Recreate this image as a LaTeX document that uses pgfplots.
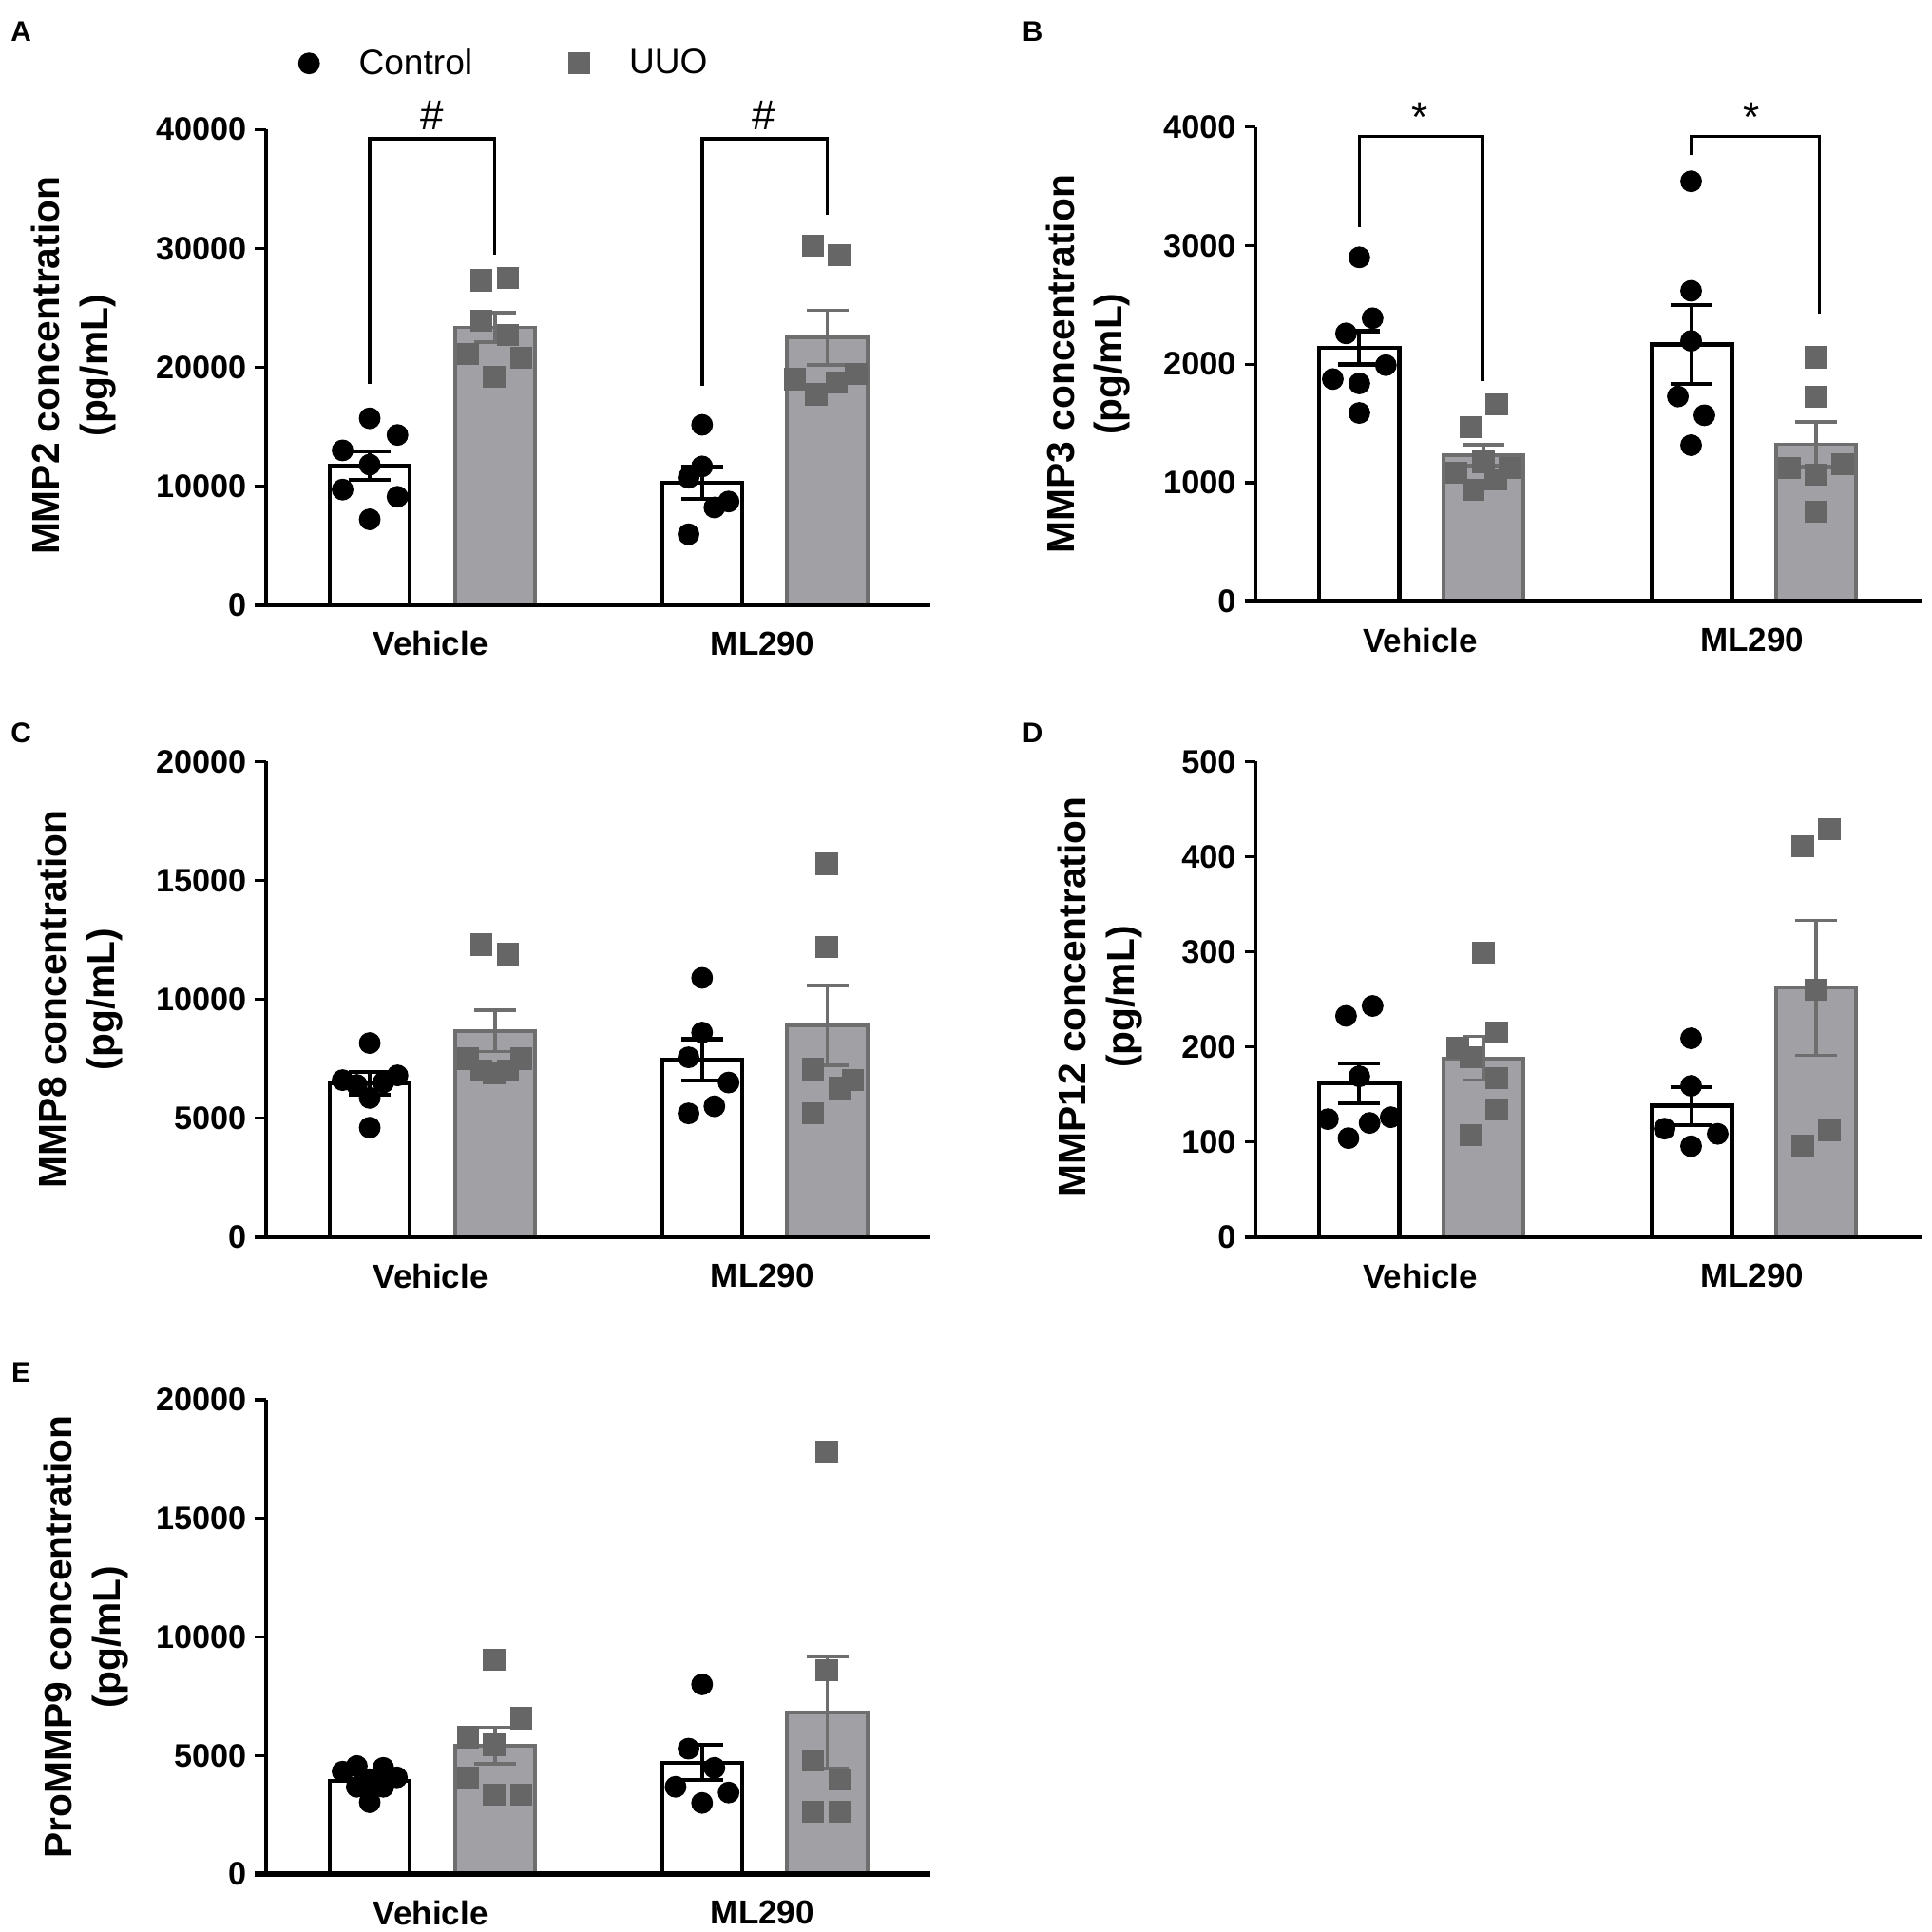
\documentclass[border=0pt]{standalone}
\usepackage{fontspec}
\setmainfont{Liberation Sans}
\usepackage{pgfplots}
\pgfplotsset{compat=1.18}

\definecolor{uuofill}{HTML}{A0A0A5}
\definecolor{uuoline}{HTML}{6E6E6E}
\definecolor{uuomark}{HTML}{666666}

\pgfplotsset{
  panel/.style={
    scale only axis,
    clip=false,
    axis on top,
    axis x line*=bottom,
    axis y line*=left,
    xmin=0,
    ymin=0,
    tick align=outside,
    major tick length=4.5pt,
    y tick style={line width=1.25pt,black},
    x tick style={draw=none},
    y axis line style={line width=1.25pt,black},
    scaled y ticks=false,
    /pgf/number format/assume math mode=true,
    /pgf/number format/1000 sep={},
    y tick label style={font=\fontsize{13.2}{13.2}\selectfont\bfseries,xshift=0pt},
    x tick label style={font=\fontsize{13.5}{13.5}\selectfont\bfseries,yshift=-2.75pt},
    xticklabels={Vehicle,ML290},
    y label style={font=\fontsize{15.7}{19.5}\selectfont\bfseries,align=center,anchor=center},
  },
  narrow/.style={panel,width=269.5pt,xmax=1077,xtick={267,805}},
  wide/.style={panel,width=270.5pt,xmax=1105,xtick={273,823}},
  ctrlbar/.style={ybar,bar width=32.5pt,fill=white,draw=black,line width=1.7pt,
    error bars/.cd,y dir=both,y explicit,
    error bar style={line width=1.6pt,black},
    error mark options={rotate=90,mark size=8.5pt,line width=1.6pt,black}},
  uuobar/.style={ybar,bar width=32.5pt,fill=uuofill,draw=uuoline,line width=1.5pt,
    error bars/.cd,y dir=both,y explicit,
    error bar style={line width=1.4pt,uuoline},
    error mark options={rotate=90,mark size=8.5pt,line width=1.4pt,uuoline}},
  ctrlpts/.style={only marks,mark=*,mark size=4.2pt,mark options={fill=black,draw=black}},
  uuopts/.style={only marks,mark=square*,mark size=4.3pt,mark options={fill=uuomark,draw=uuomark}},
  bracket/.style={black,line width=1.3pt,no marks},
}

\begin{document}
\begin{tikzpicture}
\useasboundingbox (0,0) rectangle (784pt,-784pt);

\foreach \lab/\px/\py in {A/8.5/13,B/419/13,C/8.5/297.5,D/419/297.5,E/8.5/557}
  \node[font=\fontsize{11.5}{11.5}\selectfont\bfseries] at (\px pt,-\py pt) {\lab};

% A
\begin{axis}[narrow,at={(108pt,-245.5pt)},anchor=south west,height=193pt,
  x axis line style={line width=2pt,black,shorten <=-4.5pt},
  ymax=40000,ytick={0,10000,20000,30000,40000},
  ylabel={MMP2 concentration\\(pg/mL)},
  y label style={at={(axis description cs:-0.29,0.503)}},
  legend style={at={(axis cs:52,45550)},anchor=west,draw=none,fill=none,legend columns=2,
    font=\fontsize{14.3}{14.3}\selectfont,inner sep=0pt}]
\addlegendimage{ctrlpts}
\addlegendentry{\rule{14pt}{0pt}Control\rule{37pt}{0pt}}
\addlegendimage{uuopts}
\addlegendentry{\rule{14pt}{0pt}UUO}
\addplot[ctrlbar] coordinates {(168,11720) +- (0,1170) (707,10260) +- (0,1340)};
\addplot[uuobar] coordinates {(371,23350) +- (0,1250) (910,22500) +- (0,2300)};
\addplot[ctrlpts] coordinates {(168,15700)(213,14300)(124,13000)(168,11800)(124,9700)(213,9100)(168,7200)
  (707,15150)(707,11650)(685,10700)(727,8200)(750,8700)(685,5950)};
\addplot[uuopts] coordinates {(349,27300)(392,27500)(349,23900)(392,22700)(327,21100)(414,20800)(370,19200)
  (887,30200)(929,29400)(858,19000)(957,19450)(925,18700)(892,17700)};
\addplot[bracket] coordinates {(168,18600)(168,39200)(371,39200)(371,29500)};
\addplot[bracket] coordinates {(707,18450)(707,39200)(910,39200)(910,32800)};
\node[font=\fontsize{17}{17}\selectfont] at (axis cs:269,41200) {\#};
\node[font=\fontsize{17}{17}\selectfont] at (axis cs:807,41200) {\#};
\end{axis}

% B
\begin{axis}[wide,at={(509.5pt,-244pt)},anchor=south west,height=192.5pt,
  x axis line style={line width=2pt,black,shorten <=-4.5pt},
  ymax=4000,ytick={0,1000,2000,3000,4000},
  ylabel={MMP3 concentration\\(pg/mL)},
  y label style={at={(axis description cs:-0.251,0.5)}}]
\addplot[ctrlbar] coordinates {(172,2137) +- (0,140) (723,2167) +- (0,333)};
\addplot[uuobar] coordinates {(378,1232) +- (0,90) (929,1324) +- (0,190)};
\addplot[ctrlpts] coordinates {(172,2900)(194,2387)(150,2259)(216,1991)(128,1874)(172,1837)(172,1588)
  (722,3542)(722,2618)(722,2196)(700,1727)(744,1569)(722,1316)};
\addplot[uuopts] coordinates {(400,1661)(356,1470)(378,1177)(333,1085)(421,1122)(398,1030)(361,939)
  (929,2057)(929,1727)(885,1122)(973,1158)(929,1067)(929,755)};
\addplot[bracket] coordinates {(172,3157)(172,3919)(376,3919)(376,1855)};
\addplot[bracket] coordinates {(722,3762)(722,3919)(935,3919)(935,2423)};
\node[font=\fontsize{17}{17}\selectfont] at (axis cs:272,4085) {*};
\node[font=\fontsize{17}{17}\selectfont] at (axis cs:822,4085) {*};
\end{axis}

% C
\begin{axis}[narrow,at={(108pt,-502pt)},anchor=south west,height=193pt,
  x axis line style={line width=1.4pt,black,shorten <=-4.5pt},
  ymax=20000,ytick={0,5000,10000,15000,20000},
  ylabel={MMP8 concentration\\(pg/mL)},
  y label style={at={(axis description cs:-0.28,0.5)}}]
\addplot[ctrlbar] coordinates {(168,6470) +- (0,480) (707,7450) +- (0,870)};
\addplot[uuobar] coordinates {(371,8670) +- (0,870) (910,8900) +- (0,1670)};
\addplot[ctrlpts] coordinates {(168,8160)(213,6800)(124,6600)(147,6400)(190,6500)(168,5850)(168,4600)
  (707,10900)(707,8600)(685,7560)(750,6500)(727,5500)(685,5200)};
\addplot[uuopts] coordinates {(349,12300)(392,11900)(327,7500)(414,7500)(349,7000)(392,7000)(370,6900)
  (909,15700)(909,12200)(887,7070)(952,6600)(930,6260)(887,5200)};
\end{axis}

% D
\begin{axis}[wide,at={(509.5pt,-502pt)},anchor=south west,height=193pt,
  x axis line style={line width=1.4pt,black,shorten <=-4.5pt},
  ymax=500,ytick={0,100,200,300,400,500},
  ylabel={MMP12 concentration\\(pg/mL)},
  y label style={at={(axis description cs:-0.233,0.505)}}]
\addplot[ctrlbar] coordinates {(172,162) +- (0,21) (723,138) +- (0,20)};
\addplot[uuobar] coordinates {(378,188) +- (0,23) (929,262) +- (0,71)};
\addplot[ctrlpts] coordinates {(194,243)(150,232.5)(172,169)(120,124)(224,126)(189,120)(154,104)
  (722,209)(722,159)(678,114)(766,108.5)(722,95.5)};
\addplot[uuopts] coordinates {(378,299)(400,215)(335,199)(356,189)(400,167)(400,134)(356,107)
  (951,429)(907,411)(929,260)(951,112.6)(907,96)};
\end{axis}

% E
\begin{axis}[narrow,at={(108pt,-760.5pt)},anchor=south west,height=192.5pt,
  x axis line style={line width=2.4pt,black,shorten <=-4.5pt},
  ymax=20000,ytick={0,5000,10000,15000,20000},
  ylabel={ProMMP9 concentration\\(pg/mL)},
  y label style={at={(axis description cs:-0.271,0.5)}}]
\addplot[ctrlbar] coordinates {(168,3920) +- (0,400) (707,4700) +- (0,740)};
\addplot[uuobar] coordinates {(371,5420) +- (0,780) (910,6800) +- (0,2360)};
\addplot[ctrlpts] coordinates {(147,4560)(190,4480)(124,4320)(212,4080)(147,3680)(190,3680)(168,3030)(168,4000)
  (707,8000)(685,5290)(727,4480)(664,3680)(750,3440)(707,3000)};
\addplot[uuopts] coordinates {(370,9030)(414,6580)(327,5770)(370,5450)(327,4080)(370,3350)(414,3350)
  (909,17800)(909,8600)(887,4800)(930,4000)(887,2630)(930,2630)};
\end{axis}
\end{tikzpicture}
\end{document}
